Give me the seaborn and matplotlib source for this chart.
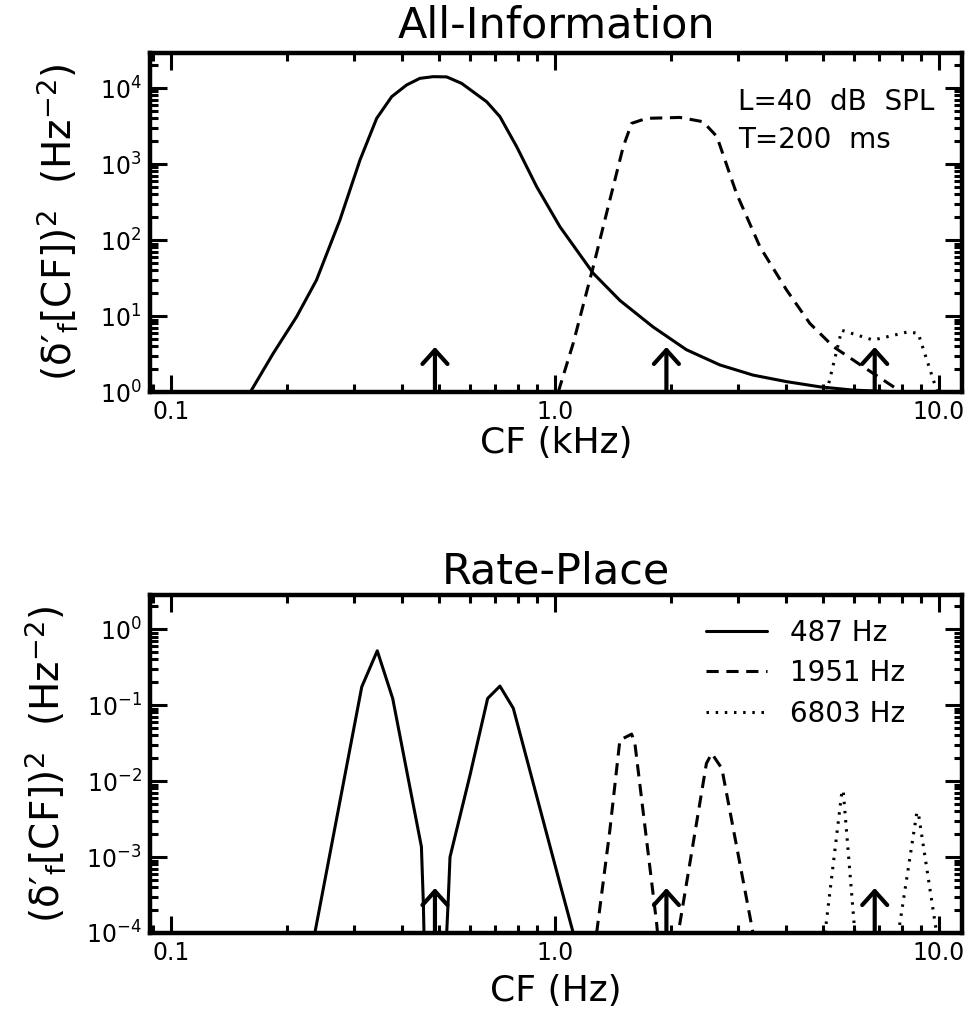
import numpy as np
import pandas as pd
import matplotlib
matplotlib.use("Agg")
import matplotlib.pyplot as plt
import matplotlib.ticker as mticker
import seaborn as sns

# ---------------- data ----------------
tone_labels = ["487 Hz", "1951 Hz", "6803 Hz"]
tone_khz = [0.487, 1.951, 6.803]

# All-Information panel (CF in kHz, (delta'_f)^2 in Hz^-2)
ai_487_cf = [0.161, 0.1847, 0.2125, 0.2394, 0.2754, 0.3107, 0.3434, 0.3758, 0.411,
             0.445, 0.482, 0.5225, 0.5716, 0.664, 0.719, 0.795, 0.896, 1.03, 1.258,
             1.477, 1.80, 2.2, 2.69, 3.28, 4.01, 4.9, 5.98, 8.0]
ai_487_val = [1.0, 3.23, 9.8, 29.8, 183, 1129, 3990, 7700, 10970,
              13400, 14100, 14000, 11500, 6600, 4200, 1690, 504, 150, 36.5,
              16.0, 7.2, 3.6, 2.27, 1.67, 1.37, 1.17, 1.06, 1.0]

ai_1951_cf = [1.02, 1.116, 1.258, 1.39, 1.506, 1.584, 1.733, 2.116, 2.43, 2.64,
              2.97, 3.42, 4.01, 4.61, 5.31, 6.35, 7.76, 7.95]
ai_1951_val = [1.0, 4.4, 44.5, 337, 1690, 3430, 3990, 4100, 3600, 2300,
               410, 81, 22, 8.0, 3.95, 2.15, 1.1, 1.0]

ai_6803_cf = [5.1, 5.58, 6.74, 8.32, 8.83, 9.9]
ai_6803_val = [1.0, 6.5, 4.83, 6.2, 5.9, 1.0]

# Rate-Place panel
rp_487_cf = [0.237, 0.314, 0.3446, 0.378, 0.449, 0.4543, 0.456,
             0.5225, 0.527, 0.533, 0.601, 0.668, 0.719, 0.779, 1.03, 1.116]
rp_487_val = [1e-4, 0.174, 0.519, 0.1225, 0.00137, 2.45e-4, 1e-4,
              1e-4, 2.5e-4, 1.0e-3, 0.012, 0.1225, 0.178, 0.091, 4.5e-4, 1e-4]

rp_1951_cf = [1.284, 1.39, 1.476, 1.584, 1.615, 1.84, 1.85,
              2.095, 2.48, 2.56, 2.72, 3.28]
rp_1951_val = [1e-4, 0.00226, 0.0347, 0.0415, 0.0314, 1.34e-4, 1e-4,
               1e-4, 0.0171, 0.0231, 0.0147, 1e-4]

rp_6803_cf = [5.05, 5.58, 5.63, 6.04, 7.84, 8.75, 8.83, 9.86]
rp_6803_val = [1e-4, 0.0069, 0.0076, 1e-4, 1e-4, 0.00376, 0.0039, 1e-4]

x_ticks = [0.1, 1.0, 10.0]
x_ticklabels = ["0.1", "1.0", "10.0"]


def panel_frame(cfs, vals):
    parts = []
    for lab, c, v in zip(tone_labels, cfs, vals):
        parts.append(pd.DataFrame({"cf": c, "val": v, "tone": lab}))
    return pd.concat(parts, ignore_index=True)


df_ai = panel_frame([ai_487_cf, ai_1951_cf, ai_6803_cf],
                    [ai_487_val, ai_1951_val, ai_6803_val])
df_rp = panel_frame([rp_487_cf, rp_1951_cf, rp_6803_cf],
                    [rp_487_val, rp_1951_val, rp_6803_val])

# ---------------- style ----------------
sns.set_style("ticks")
plt.rcParams["font.family"] = ["DejaVu Sans"]
plt.rcParams["mathtext.fontset"] = "dejavusans"
plt.rcParams["axes.linewidth"] = 3.2
for k in ["text.color", "axes.labelcolor", "xtick.color", "ytick.color",
          "axes.edgecolor", "axes.titlecolor"]:
    plt.rcParams[k] = "black"

fig = plt.figure(figsize=(9.72, 10.22), dpi=100)
ax1 = fig.add_axes([0.1543, 0.6164, 0.8354, 0.3317])
ax2 = fig.add_axes([0.1543, 0.0871, 0.8354, 0.3307])

dash_map = {tone_labels[0]: "", tone_labels[1]: (4, 2.5), tone_labels[2]: (0.8, 2.2)}
ylabel = r"(δ′$_{\mathrm{f}}$[CF])$^{2}$  (Hz$^{-2}$)"

for ax, df, ylim, title, xlab, tpad, ylab_x, xlab_y in [
        (ax1, df_ai, (1.0, 10 ** 4.46), "All-Information", "CF (kHz)", 11, -0.086, -0.1),
        (ax2, df_rp, (1e-4, 10 ** 0.45), "Rate-Place", "CF (Hz)", 8, -0.101, -0.122)]:
    ax.set_xscale("log")
    ax.set_yscale("log")
    sns.lineplot(data=df, x="cf", y="val", hue="tone", style="tone",
                 hue_order=tone_labels, style_order=tone_labels,
                 palette=["black"] * 3, dashes=dash_map,
                 estimator=None, sort=False, linewidth=2.2,
                 legend=(ax is ax2), ax=ax)
    ax.set_xlim(0.0882, 11.48)
    ax.set_ylim(*ylim)

    ax.xaxis.set_major_locator(mticker.FixedLocator(x_ticks))
    ax.xaxis.set_major_formatter(mticker.FixedFormatter(x_ticklabels))
    ax.xaxis.set_minor_locator(mticker.LogLocator(base=10, subs=np.arange(2, 10), numticks=50))
    ax.xaxis.set_minor_formatter(mticker.NullFormatter())
    ax.yaxis.set_major_locator(mticker.LogLocator(base=10, numticks=20))
    ax.yaxis.set_minor_locator(mticker.LogLocator(base=10, subs=np.arange(2, 10), numticks=100))
    ax.yaxis.set_minor_formatter(mticker.NullFormatter())

    ax.tick_params(which="major", direction="in", length=12, width=2.2,
                   top=True, right=True, labelsize=17, pad=6, colors="black")
    ax.tick_params(which="minor", direction="in", length=6, width=2.2,
                   top=True, right=True, colors="black")
    for s in ax.spines.values():
        s.set_linewidth(3.2)
        s.set_color("black")

    ax.set_title(title, fontsize=31, pad=tpad, color="black")
    ax.set_xlabel(xlab, fontsize=26, color="black")
    ax.xaxis.set_label_coords(0.5, xlab_y)
    ax.set_ylabel(ylabel, fontsize=28, color="black")
    ax.yaxis.set_label_coords(ylab_x, 0.5)

    # tone-frequency arrows
    for f in tone_khz:
        ax.annotate("", xy=(f, 0.133), xycoords=("data", "axes fraction"),
                    xytext=(f, 0.0), textcoords=("data", "axes fraction"),
                    arrowprops=dict(arrowstyle="->,head_length=0.5,head_width=0.45",
                                    lw=3.0, color="black", shrinkA=0, shrinkB=0,
                                    mutation_scale=20))

ax1.text(0.724, 0.855, "L=40  dB  SPL", transform=ax1.transAxes,
         fontsize=20, va="center", ha="left", color="black")
ax1.text(0.724, 0.743, "T=200  ms", transform=ax1.transAxes,
         fontsize=20, va="center", ha="left", color="black")

handles, labels = ax2.get_legend_handles_labels()
leg = ax2.legend(handles, labels, loc="upper left", bbox_to_anchor=(0.685, 0.93),
                 frameon=False, fontsize=20, handlelength=2.2, handletextpad=0.8,
                 labelspacing=0.45, borderpad=0.0, borderaxespad=0.0)
for t in leg.get_texts():
    t.set_color("black")

fig.savefig("out.png", dpi=100)
